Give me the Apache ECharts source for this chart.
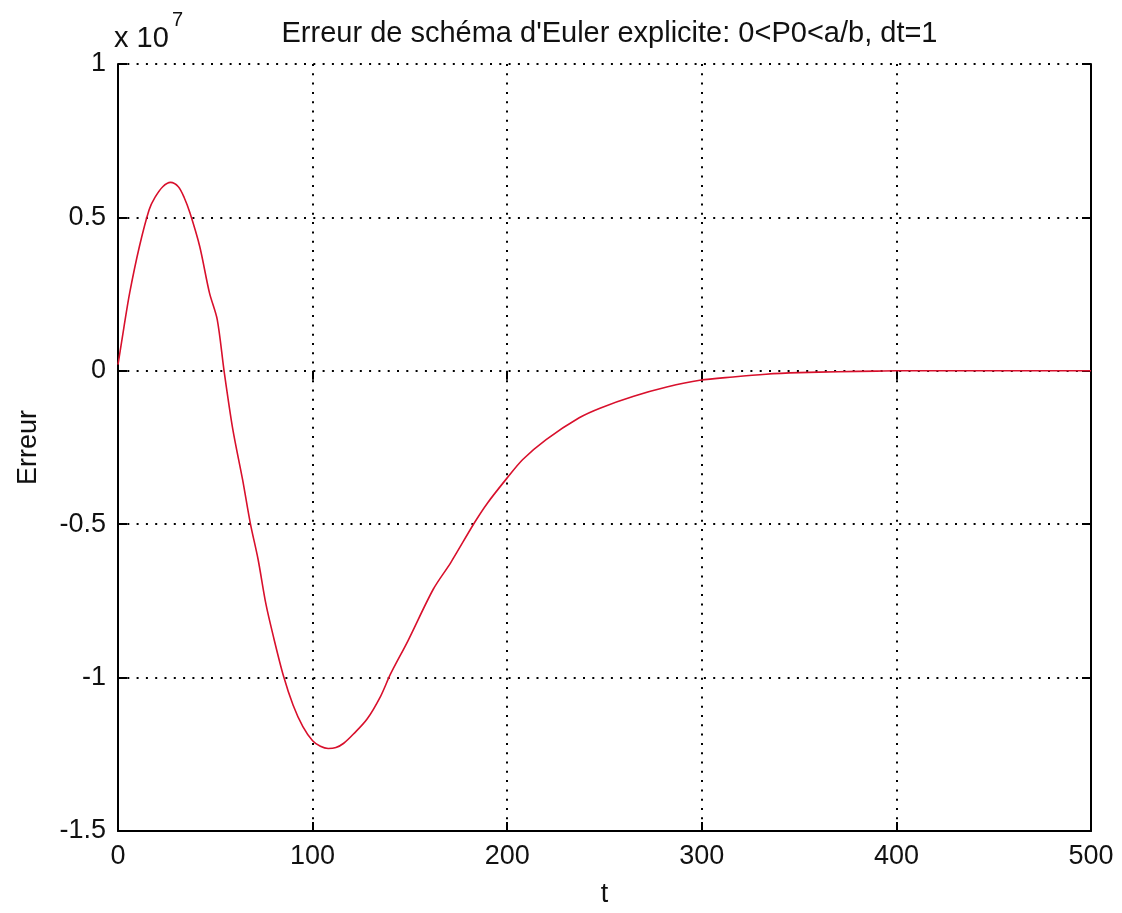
<!DOCTYPE html>
<html>
<head>
<meta charset="utf-8">
<script src="https://cdn.jsdelivr.net/npm/echarts@6/dist/echarts.min.js"></script>
<style>
html,body{margin:0;padding:0;background:#fff;}
#chart{width:1122px;height:913px;}
</style>
</head>
<body>
<div id="chart"></div>
<script>
// Data (error values in units of 1e7)
var tValues = [0, 3, 6, 11, 16, 19, 23, 27, 31, 34, 37, 42, 47, 51, 54.5, 59, 64, 68, 72, 76, 80, 85, 90, 95, 100, 104, 108, 112, 116, 121, 128, 135, 140, 149, 162, 171, 183, 190, 200, 208, 220, 237, 248, 265, 282, 299, 316, 333, 350, 370, 390, 400, 450, 500];
var errorE7 = [0.02, 0.14, 0.254, 0.405, 0.525, 0.565, 0.6, 0.614, 0.6, 0.565, 0.514, 0.405, 0.254, 0.167, 0, -0.191, -0.354, -0.497, -0.615, -0.76, -0.87, -0.994, -1.09, -1.16, -1.206, -1.224, -1.231, -1.228, -1.214, -1.184, -1.135, -1.06, -0.989, -0.88, -0.712, -0.625, -0.497, -0.43, -0.349, -0.289, -0.224, -0.153, -0.121, -0.083, -0.053, -0.031, -0.020, -0.011, -0.006, -0.003, -0.001, 0, 0, 0];
var xTicks = [0, 100, 200, 300, 400, 500];
var yTicks = [-1.5, -1, -0.5, 0, 0.5, 1];
var titleText = "Erreur de schéma d'Euler explicite: 0<P0<a/b, dt=1";
var xLabel = "t";
var yLabel = "Erreur";

var points = tValues.map(function (t, i) { return [t, errorE7[i]]; });
var FONT = 'Liberation Sans, Arial, sans-serif';
var FS = 27;
var dotted = { color: '#000', width: 2, type: [2, 7.3] };

var chart = echarts.init(document.getElementById('chart'));
chart.setOption({
  backgroundColor: '#fff',
  animation: false,
  textStyle: { fontFamily: FONT },
  title: {
    text: titleText,
    left: 604.5,
    textAlign: 'center',
    top: 14,
    textStyle: { fontFamily: FONT, fontSize: 29, fontWeight: 'normal', color: '#111' }
  },
  graphic: [{
    type: 'text',
    left: 114,
    top: 24,
    style: {
      text: 'x 10',
      font: '29px ' + FONT,
      fill: '#111'
    }
  }, {
    type: 'text',
    left: 172,
    top: 10,
    style: {
      text: '7',
      font: '20px ' + FONT,
      fill: '#111'
    }
  }],
  grid: { left: 118, right: 31, top: 64, bottom: 81, containLabel: false },
  xAxis: [{
    type: 'value', min: xTicks[0], max: xTicks[xTicks.length - 1], interval: 100,
    name: xLabel, nameLocation: 'middle', nameGap: 50,
    nameTextStyle: { fontSize: FS, color: '#111', fontFamily: FONT },
    axisLine: { show: true, onZero: false, lineStyle: { color: '#000', width: 2 } },
    axisTick: { show: true, inside: true, length: 9, lineStyle: { color: '#000', width: 2 } },
    axisLabel: { fontSize: FS, color: '#111', margin: 12, fontFamily: FONT },
    splitLine: { show: true, lineStyle: dotted }
  }, {
    type: 'value', position: 'top', min: xTicks[0], max: xTicks[xTicks.length - 1], interval: 100,
    axisLine: { show: false },
    axisTick: { show: true, inside: true, length: 9, lineStyle: { color: '#000', width: 2 } },
    axisLabel: { show: false },
    splitLine: { show: false }
  }],
  yAxis: [{
    type: 'value', min: yTicks[0], max: yTicks[yTicks.length - 1], interval: 0.5,
    name: yLabel, nameLocation: 'middle', nameGap: 76, nameRotate: 90,
    nameTextStyle: { fontSize: FS, color: '#111', fontFamily: FONT },
    axisLine: { show: true, onZero: false, lineStyle: { color: '#000', width: 2 } },
    axisTick: { show: true, inside: true, length: 9, lineStyle: { color: '#000', width: 2 } },
    axisLabel: { fontSize: FS, color: '#111', margin: 12, fontFamily: FONT,
      formatter: function (v) { return String(Math.round(v * 10) / 10); } },
    splitLine: { show: true, lineStyle: dotted }
  }, {
    type: 'value', position: 'right', min: yTicks[0], max: yTicks[yTicks.length - 1], interval: 0.5,
    axisLine: { show: true, onZero: false, lineStyle: { color: '#000', width: 2 } },
    axisTick: { show: true, inside: true, length: 9, lineStyle: { color: '#000', width: 2 } },
    axisLabel: { show: false },
    splitLine: { show: false }
  }],
  series: [{
    type: 'line',
    xAxisIndex: 0, yAxisIndex: 0,
    data: points,
    showSymbol: false,
    smooth: 0.3,
    lineStyle: { color: '#d8102c', width: 1.6 },
    z: 5
  }]
});
</script>
</body>
</html>
